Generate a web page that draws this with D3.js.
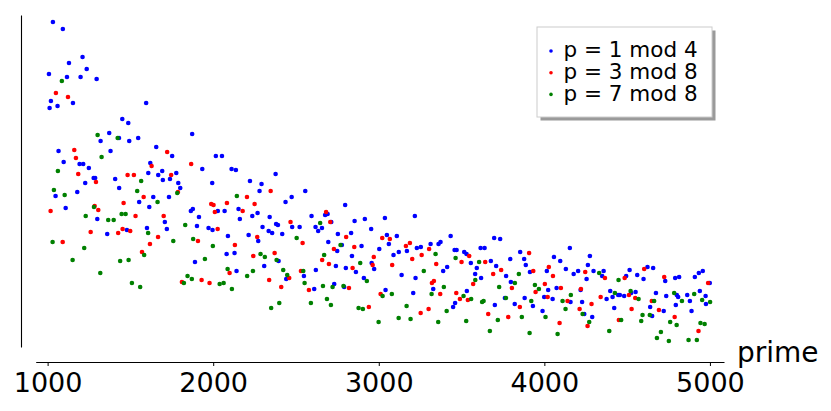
<!DOCTYPE html>
<style>body { margin: 0; background: #fff; }</style>
<svg width="831" height="411" font-family="DejaVu Sans, sans-serif"></svg>
<script src="https://d3js.org/d3.v7.min.js"></script>
<script>
// values: [prime, value]
var oneMod4 = [[1032,325],[1092,318],[1211,290],[1129,284],[1236,278],[1008,273],[1117,270],[1199,270],[1296,268],[1020,246],[1012,239],[1060,241],[1153,244],[1595,244],[1451,228],[1487,224],[1372,214],[1431,209],[1320,206],[1547,209],[1493,206],[1656,200],[1752,191],[1066,196],[1380,196],[1097,185],[1193,183],[1215,183],[1249,179],[1620,184],
  [1278,169],[1287,169],[1408,168],[1608,174],[1692,176],[1668,172],[1777,174],[1696,167],[1739,168],[1227,164],[1789,164],[1801,159],[1048,151],[1179,155],[1432,159],[1638,150],[1733,150],[1553,145],[1614,140],[1109,139],[1300,128],[1708,125],[1360,113],[1479,117],[1600,119],[1720,118],
  [1873,213],[2016,191],[2053,191],[1934,178],[2111,178],[2137,177],[2377,173],[1994,164],[2222,166],[2292,163],[2280,156],[2474,150],[2556,156],[2437,145],[2797,142],[1877,138],[2153,138],
  [1865,136],[2028,136],[2069,136],[1914,130],[2161,128],[2236,131],[2268,134],[2341,130],[2594,131],[2676,132],[2691,133],[2854,126],[1902,121],[1972,119],[1996,117],[2298,120],[2380,123],[2391,122],[2335,116],[2356,114],[2417,113],[2477,120],[2522,120],[2713,125],[2618,120],[2634,116],[2657,119],[2753,113],[2833,114],[2089,111],[2214,112],[2272,106],[2695,105],[2777,102],[2081,93],[2129,94],[2395,86],[1890,85],[2749,96],[2838,91],[2741,81],[2801,79],[2862,75],[2141,76],[2308,81],[2441,68],[2548,71],[2620,77],[2610,58],[2731,63],[2791,60],
  [2916,128],[3037,129],[3218,131],[2954,118],[2896,101],[3049,112],[3061,103],[3109,111],[3003,98],[3089,92],[3121,95],[3170,96],[3230,99],[3254,100],[3313,103],[3361,103],[3373,105],[3434,111],[2957,84],[2972,78],[3458,97],[3470,97],[3516,95],[3530,93],[3556,84],[3697,109],[3733,108],[3615,99],[3639,99],[3677,86],[3794,88],[3854,95],[3878,88],[3413,80],[3389,76],[3592,79],[3709,81],[3888,82],[3769,71],[3798,65],[3582,73],[3618,69],[2910,69],[3138,72],[3222,69],[3329,58],[3208,54],[3041,57],[3532,56],[3461,44],[3449,40],[3762,49],[3881,49],[3701,42],[3821,43],
  [4154,99],[4058,90],[4096,86],[4275,91],[4263,82],[4130,78],[4015,76],[3913,75],[4177,73],[4204,76],[4297,76],[4358,76],[4349,71],[4255,68],[4515,77],[4494,71],[4561,72],[4599,68],[4623,80],[4657,79],[4730,66],[4790,69],[4814,70],[4909,70],[4933,74],[4957,76],[4999,64],[4023,57],[4074,59],[4219,57],[4398,56],[4412,50],[4446,52],[4456,52],[4482,51],[4524,54],[4551,55],[4376,48],[3931,41],[3999,50],[4050,48],[4158,45],[4228,45],[3989,36],[4241,33],[4289,30],[4422,39],[4651,31],[4639,40],[4674,54],[4721,36],[4736,51],[4800,52],[4808,50],[4794,42],[4863,52],[4879,46],[4889,36],[4939,56],[4974,51],[4976,43]];

var threeMod8 = [[1050,254],[1123,250],[1722,195],[1161,197],[1171,189],[1628,181],
  [1185,173],[1292,165],[1483,172],[1521,172],[1746,172],[1787,155],[1580,150],[1459,144],[1018,136],[1284,141],[1306,137],[1531,131],[1701,131],[1260,115],[1426,114],[1453,118],[1499,116],[1667,110],[1091,105],[1618,103],[1570,95],[1811,65],
  [1867,183],[2347,156],[2204,150],[2083,144],[2250,143],[1988,143],[2002,142],
  [2010,135],[2178,136],[2682,135],[2467,125],[2027,118],[2707,125],[2803,110],[1908,106],[2266,110],[2540,104],[2852,100],[2131,102],[2242,91],[2371,94],[2729,98],[2658,87],[2699,83],[2842,79],[2099,74],[2459,69],[2530,76],[1930,67],[1978,64],[2338,67],[2411,60],[2578,57],[2820,59],
  [3021,109],[3067,108],[3164,101],[3188,104],[3304,98],[2970,90],[2963,82],[3202,88],[3259,92],[3546,91],[3500,85],[3643,85],[3908,94],[3081,82],[3347,83],[3739,77],[3691,73],[3570,63],[3321,64],[3333,66],[3371,53],[3804,59],[3011,53],[3468,54],[3490,48],[3538,47],[3852,40],[2940,40],[3301,38],[3253,34],[3661,33],[3782,30],
  [4027,80],[4052,71],[3933,76],[4247,75],[4366,69],[4485,69],[4603,78],[4724,70],[4989,64],[4003,63],[3947,55],[4100,59],[4221,58],[4511,52],[4549,49],[4340,50],[4020,50],[4140,46],[4285,43],[4213,38],[4261,21],[4092,24],[4527,38],[4450,27],[4649,46],[4692,37],[4787,30],[4931,16]];

var sevenMod8 = [[1086,266],[1302,212],[1423,209],[1326,190],
  [1062,176],[1565,166],[1783,154],[1038,157],[1103,152],[1541,156],[1664,145],[1280,140],[1230,131],[1366,127],[1399,127],[1447,133],[1471,133],[1607,114],[1831,122],[1030,105],[1221,99],[1759,106],[1583,92],[1151,87],[1438,86],[1489,87],[1318,74],[1845,71],[1823,64],[1509,64],[1559,60],
  [2143,151],
  [2646,124],[1879,108],[1998,101],[2504,109],[2769,102],[2286,93],[2312,90],[2383,87],[1950,88],[2670,92],[2087,78],[2205,71],[2240,76],[2423,77],[2447,72],[2544,76],[2552,64],[1871,68],[2039,63],[2063,64],[2113,58],[2663,61],[2721,60],[2787,61],[2350,39],[2399,44],[2590,44],[2687,48],[2711,42],[2878,39],
  [3343,93],[3464,89],[3606,85],[2888,84],[3272,76],[3846,73],[3822,64],[3583,67],[2928,66],[3393,60],[3319,53],[3727,60],[3023,51],[3079,53],[3512,51],[3558,48],[3624,45],[3633,46],[3768,49],[2904,38],[3168,41],[3410,36],[3864,30],[3120,29],[3192,28],[3359,25],[3528,26],[3719,27],[2999,25],[3671,16],
  [4331,74],[4448,67],[3943,62],[3967,58],[4160,52],[4426,54],[4521,56],[4569,48],[3921,46],[4110,46],[4128,38],[4007,30],[4231,33],[4271,25],[4392,16],[4080,13],[3911,14],[4464,27],[4585,26],[4593,32],[4637,32],[4663,46],[4784,54],[4831,46],[4905,53],[4953,47],[5001,45],[4760,25],[4799,22],[4943,24],[4968,23],[4680,9],[4704,15],[4752,6],[4871,7],[4921,7]];

var xTicks = [1000, 2000, 3000, 4000, 5000];

var series = [
  {label: "p = 1 mod 4", color: "#0000ff", data: oneMod4},
  {label: "p = 3 mod 8", color: "#ff0000", data: threeMod8},
  {label: "p = 7 mod 8", color: "#008000", data: sevenMod8}
];

var svg = d3.select("svg");

var x = d3.scaleLinear().domain([928, 5085]).range([35.7, 724]);
var y = d3.scaleLinear().domain([0, 332]).range([347, 15]);

// spines, offset like the original
var xAxis = svg.append("g")
    .attr("transform", "translate(0,362)")
    .call(d3.axisBottom(x).tickValues(xTicks).tickFormat(d3.format("d"))
      .tickSize(4).tickSizeOuter(0).tickPadding(7));
xAxis.attr("font-size", 27).attr("font-family", "DejaVu Sans, sans-serif");
xAxis.select(".domain").attr("stroke-width", 1.1);

var yAxis = svg.append("g")
    .attr("transform", "translate(21,0)")
    .call(d3.axisLeft(y).tickValues([]).tickSizeOuter(0));
yAxis.select(".domain").attr("stroke-width", 1.1);

svg.append("text")
    .attr("x", 737)
    .attr("y", 362)
    .attr("font-size", 28)
    .text("prime");

series.forEach(function(s) {
  svg.append("g")
    .selectAll("circle")
    .data(s.data)
    .enter().append("circle")
      .attr("cx", function(d) { return x(d[0]); })
      .attr("cy", function(d) { return y(d[1]); })
      .attr("r", 2.3)
      .attr("fill", s.color);
});

// legend
var legend = svg.append("g").attr("transform", "translate(537,27)");
legend.append("rect")
    .attr("x", 3.5).attr("y", 3.5)
    .attr("width", 175).attr("height", 90)
    .attr("fill", "#9a9a9a");
legend.append("rect")
    .attr("width", 175).attr("height", 90)
    .attr("fill", "#fff")
    .attr("stroke", "#cccccc");

var item = legend.selectAll(".item")
    .data(series)
    .enter().append("g")
      .attr("class", "item")
      .attr("transform", function(d, i) { return "translate(0," + (24 + i * 21.7) + ")"; });

item.append("circle")
    .attr("cx", 14).attr("r", 1.8)
    .attr("fill", function(d) { return d.color; });

item.append("text")
    .attr("x", 26.5)
    .attr("dy", "0.29em")
    .attr("font-size", 21.5)
    .text(function(d) { return d.label; });
</script>
